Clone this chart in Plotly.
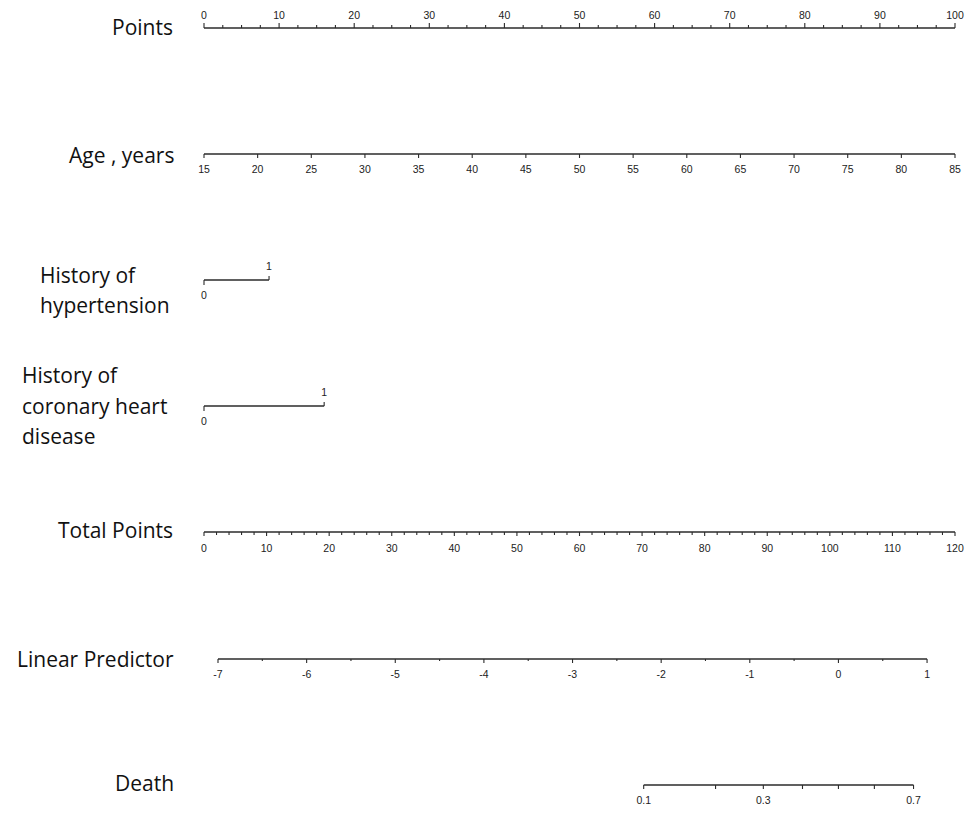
import numpy as np
import plotly.graph_objects as go

# ---------------- data ----------------
points_ticks = list(range(0, 101, 10))
points_minor = [x * 2.5 for x in range(0, 41)]
age_ticks = list(range(15, 86, 5))
age_min, age_max = 15, 85
htn_levels = ["0", "1"]
htn_points = [0.0, 8.66]
chd_levels = ["0", "1"]
chd_points = [0.0, 16.0]
total_ticks = list(range(0, 121, 10))
total_minor = list(range(0, 121, 2))
total_max = 120
lp_ticks = list(range(-7, 2))
lp_minor = [x * 0.5 for x in range(-14, 3)]
lp_intercept = -7.158      # linear predictor at 0 total points
lp_per_point = 0.07061     # linear predictor per total point
death_probs = [0.1, 0.2, 0.3, 0.4, 0.5, 0.6, 0.7]
death_labels = ["0.1", "", "0.3", "", "", "", "0.7"]

row_names = ["Points", "Age , years", "History of\nhypertension",
             "History of\ncoronary heart\ndisease", "Total Points",
             "Linear Predictor", "Death"]

# ---------------- scales ----------------
def age_to_pts(a):
    return (np.asarray(a, float) - age_min) * 100.0 / (age_max - age_min)

def total_to_pts(t):
    return np.asarray(t, float) * 100.0 / total_max

def lp_to_pts(lp):
    return total_to_pts((np.asarray(lp, float) - lp_intercept) / lp_per_point)

def prob_to_pts(p):
    p = np.asarray(p, float)
    return lp_to_pts(np.log(p / (1 - p)))

W, H = 971, 813
X0, X100 = 204.0, 955.0
ppp = (X100 - X0) / 100.0
xrange = [-X0 / ppp, (W - X0) / ppp]

LINE = "#2b2b2b"
fig = go.Figure()

def seg_trace(xs_pairs, ys_pairs, width=1.3):
    xx, yy = [], []
    for (xa, xb), (ya, yb) in zip(xs_pairs, ys_pairs):
        xx += [xa, xb, None]
        yy += [ya, yb, None]
    fig.add_trace(go.Scatter(x=xx, y=yy, mode="lines",
                             line=dict(color=LINE, width=width),
                             hoverinfo="skip", showlegend=False))

def text_trace(xs, ys, texts, size=10.5):
    fig.add_trace(go.Scatter(x=list(xs), y=list(ys), mode="text", text=list(texts),
                             textposition="middle center",
                             textfont=dict(family="Liberation Sans, Arial", size=size, color="#222"),
                             hoverinfo="skip", showlegend=False))

def axis_row(vals_major, vals_minor, y, labels, up=False, label_y=None,
             major_len=5, minor_len=3):
    xs_major = list(vals_major)
    xs_minor = list(vals_minor)
    allx = xs_major + xs_minor
    seg_trace([(min(allx), max(allx))], [(y, y)])
    sgn = -1 if up else 1
    pairs_x, pairs_y = [], []
    for v in xs_major:
        pairs_x.append((v, v)); pairs_y.append((y, y + sgn * major_len))
    for v in xs_minor:
        pairs_x.append((v, v)); pairs_y.append((y, y + sgn * minor_len))
    seg_trace(pairs_x, pairs_y, width=1.1)
    text_trace(xs_major, [label_y] * len(xs_major), labels)

# Points row (ticks up, labels above)
axis_row(points_ticks, [m for m in points_minor if m not in points_ticks], 28,
         [str(v) for v in points_ticks], up=True, label_y=16, major_len=5, minor_len=3)

# Age row
axis_row(age_to_pts(age_ticks), [], 154, [str(v) for v in age_ticks],
         up=False, label_y=170, major_len=4)

# Binary rows
def binary_row(pts, labels, y):
    seg_trace([(pts[0], pts[1])], [(y, y)])
    seg_trace([(pts[0], pts[0]), (pts[1], pts[1])], [(y, y + 5), (y, y - 4)], width=1.1)
    text_trace([pts[0]], [y + 16], [labels[0]])
    text_trace([pts[1]], [y - 13], [labels[1]])

binary_row(htn_points, htn_levels, 280)
binary_row(chd_points, chd_levels, 406)

# Total points
axis_row(total_to_pts(total_ticks),
         total_to_pts([m for m in total_minor if m not in total_ticks]), 532,
         [str(v) for v in total_ticks], up=False, label_y=549, major_len=4, minor_len=3)

# Linear predictor
axis_row(lp_to_pts(lp_ticks),
         lp_to_pts([m for m in lp_minor if m not in lp_ticks]), 659,
         [str(v) for v in lp_ticks], up=False, label_y=675, major_len=4, minor_len=2)

# Death
dp = prob_to_pts(death_probs)
seg_trace([(dp.min(), dp.max())], [(785, 785)])
seg_trace([(v, v) for v in dp], [(785, 789)] * len(dp), width=1.1)
keep = [i for i, t in enumerate(death_labels) if t]
text_trace([dp[i] for i in keep], [801] * len(keep), [death_labels[i] for i in keep])

# Row titles
LBL = dict(family="Open Sans, Noto Sans, sans-serif", size=21, color="#111")
def title(text, x_px, y_px, anchor):
    fig.add_annotation(x=x_px / W, y=1 - y_px / H, xref="paper", yref="paper",
                       text=text, showarrow=False, xanchor=anchor, yanchor="middle",
                       font=LBL)

title(row_names[0], 175, 27, "right")
title(row_names[1], 176, 155, "right")
for i, ln in enumerate(row_names[2].split("\n")):
    title(ln, 38, 275 + 30 * i, "left")
for i, ln in enumerate(row_names[3].split("\n")):
    title(ln, 20, 375 + 30.5 * i, "left")
title(row_names[4], 175, 530, "right")
title(row_names[5], 176, 659, "right")
title(row_names[6], 176, 783, "right")

fig.update_layout(
    width=W, height=H, margin=dict(l=0, r=0, t=0, b=0),
    plot_bgcolor="white", paper_bgcolor="white",
    xaxis=dict(range=xrange, visible=False, fixedrange=True),
    yaxis=dict(range=[H, 0], visible=False, fixedrange=True),
    showlegend=False,
)
fig.write_html("out.html", config={"displayModeBar": False},
               post_script="document.body.style.margin='0';document.body.style.overflow='hidden';")
